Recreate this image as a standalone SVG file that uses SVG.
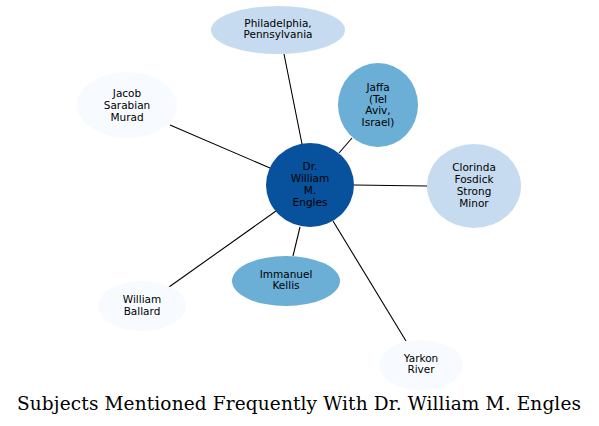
<svg xmlns="http://www.w3.org/2000/svg" width="599" height="426" viewBox="0 0 599 426">
<style>
.n text{font-family:"DejaVu Sans",sans-serif;font-size:10.5px;text-anchor:middle;fill:#000}
.e line{stroke:#000;stroke-width:1.1}
.t{font-family:"DejaVu Serif",serif;font-size:18.5px;fill:#000}
</style>
<rect width="599" height="426" fill="#fff"/>
<g class="e" id="connectors">
<line x1="302" y1="144" x2="284" y2="54"/>
<line x1="339" y1="153" x2="352" y2="138"/>
<line x1="354" y1="185" x2="427" y2="186"/>
<line x1="270" y1="168" x2="170" y2="125"/>
<line x1="276" y1="211" x2="169" y2="287"/>
<line x1="300" y1="227" x2="293" y2="256"/>
<line x1="333" y1="221" x2="406" y2="341"/>
</g>
<g class="n" id="center">
<ellipse cx="310" cy="185" rx="44" ry="42" fill="#08519c"/>
<text x="310" y="170">Dr.</text><text x="310" y="182">William</text><text x="310" y="194">M.</text><text x="310" y="206">Engles</text>
</g>
<g class="n" id="philadelphia">
<ellipse cx="278" cy="30" rx="67" ry="24" fill="#c6dbef"/>
<text x="278" y="27">Philadelphia,</text><text x="278" y="38">Pennsylvania</text>
</g>
<g class="n" id="jaffa">
<ellipse cx="378" cy="105" rx="40" ry="42" fill="#6baed6"/>
<text x="378" y="91">Jaffa</text><text x="378" y="102.5">(Tel</text><text x="378" y="114">Aviv,</text><text x="378" y="125.5">Israel)</text>
</g>
<g class="n" id="clorinda">
<ellipse cx="474" cy="186" rx="47" ry="42" fill="#c6dbef"/>
<text x="474" y="171">Clorinda</text><text x="474" y="183">Fosdick</text><text x="474" y="195">Strong</text><text x="474" y="207">Minor</text>
</g>
<g class="n" id="jacob">
<ellipse cx="127" cy="105" rx="50" ry="33" fill="#f7fbff"/>
<text x="127" y="97">Jacob</text><text x="127" y="109">Sarabian</text><text x="127" y="121">Murad</text>
</g>
<g class="n" id="ballard">
<ellipse cx="142" cy="306" rx="44" ry="25" fill="#f7fbff"/>
<text x="142" y="303">William</text><text x="142" y="315">Ballard</text>
</g>
<g class="n" id="kellis">
<ellipse cx="286" cy="281" rx="54" ry="25" fill="#6baed6"/>
<text x="286" y="278">Immanuel</text><text x="286" y="289">Kellis</text>
</g>
<g class="n" id="yarkon">
<ellipse cx="421" cy="365" rx="42" ry="25" fill="#f7fbff"/>
<text x="421" y="362">Yarkon</text><text x="421" y="373">River</text>
</g>
<text class="t" x="17" y="410" textLength="564" lengthAdjust="spacing">Subjects Mentioned Frequently With Dr. William M. Engles</text>
</svg>
